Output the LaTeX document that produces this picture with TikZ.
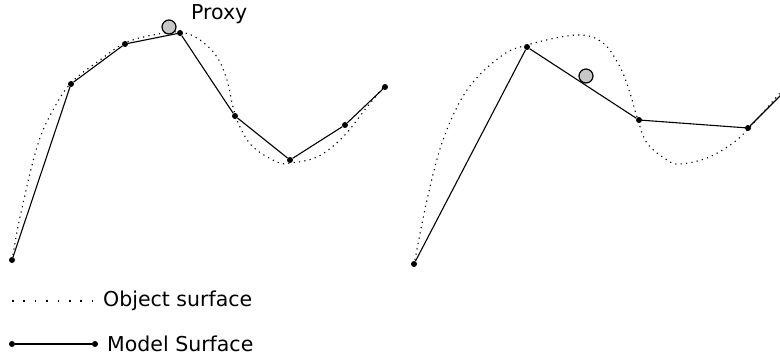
\documentclass[tikz,border=0pt]{standalone}
\usepackage{fontspec}
\setmainfont{DejaVu Sans}
\begin{document}
\begin{tikzpicture}[x=1pt,y=-1pt,
  dot/.style={circle,fill=black,inner sep=0pt,minimum size=6pt},
  model/.style={line width=1.1pt},
  objsurf/.style={line width=1.1pt,dash pattern=on 1.2pt off 4.2pt},
  legdots/.style={line width=1.1pt,dash pattern=on 1.5pt off 9.9pt},
  proxy/.style={circle,draw=black,line width=1.2pt,fill=black!22,inner sep=0pt,minimum size=14pt},
  lbl/.style={font=\fontsize{20.5}{24}\selectfont,anchor=west,inner sep=0pt}]
\useasboundingbox (0,0) rectangle (780,358);
\begin{scope}
\clip (0,0) rectangle (780,358);
% left object surface
\draw[objsurf] plot[smooth,tension=0.6] coordinates {(13,255) (20,217) (37,147) (53,110) (72,82) (100,60) (125,43) (153,35) (180,32) (200,40) (217,57) (227,80) (233,107) (240,127) (253,147) (277,162) (290,163) (317,157) (343,137) (367,107) (383,88)};
% right object surface
\draw[objsurf] plot[smooth,tension=0.6] coordinates {(415,260) (427,200) (443,140) (467,90) (500,57) (527,45) (577,35) (603,43) (620,67) (630,93) (637,117) (647,143) (667,160) (680,164) (707,158) (733,143) (750,127) (780,93) (795,75)};
% left model
\node[dot] (a1) at (12,260) {};
\node[dot] (a2) at (71,84) {};
\node[dot] (a3) at (125,44) {};
\node[dot] (a4) at (180,33) {};
\node[dot] (a5) at (235,116) {};
\node[dot] (a6) at (290,160) {};
\node[dot] (a7) at (345,125) {};
\node[dot] (a8) at (385,87) {};
\draw[model] (a1) -- (a2) -- (a3) -- (a4) -- (a5) -- (a6) -- (a7) -- (a8);
% right model
\node[dot] (b1) at (414,264) {};
\node[dot] (b2) at (527,47) {};
\node[dot] (b3) at (639,120) {};
\node[dot] (b4) at (748,128) {};
\coordinate (b5) at (800,76);
\draw[model] (b1) -- (b2) -- (b3) -- (b4) -- (b5);
\end{scope}
% proxies
\node[proxy] (p1) at (169,27) {};
\node[lbl] (pl) at (191,14) {Proxy};
\node[proxy] (p2) at (586,76) {};
% legend
\coordinate (l1a) at (12,301);
\coordinate (l1b) at (94,301);
\draw[legdots] (l1a) -- (l1b);
\node[lbl] (t1) at (103,301) {Object surface};
\node[dot] (l2a) at (12,344) {};
\node[dot] (l2b) at (95,344) {};
\draw[model] (l2a) -- (l2b);
\node[lbl] (t2) at (107,344) {Model Surface};
\end{tikzpicture}
\end{document}
